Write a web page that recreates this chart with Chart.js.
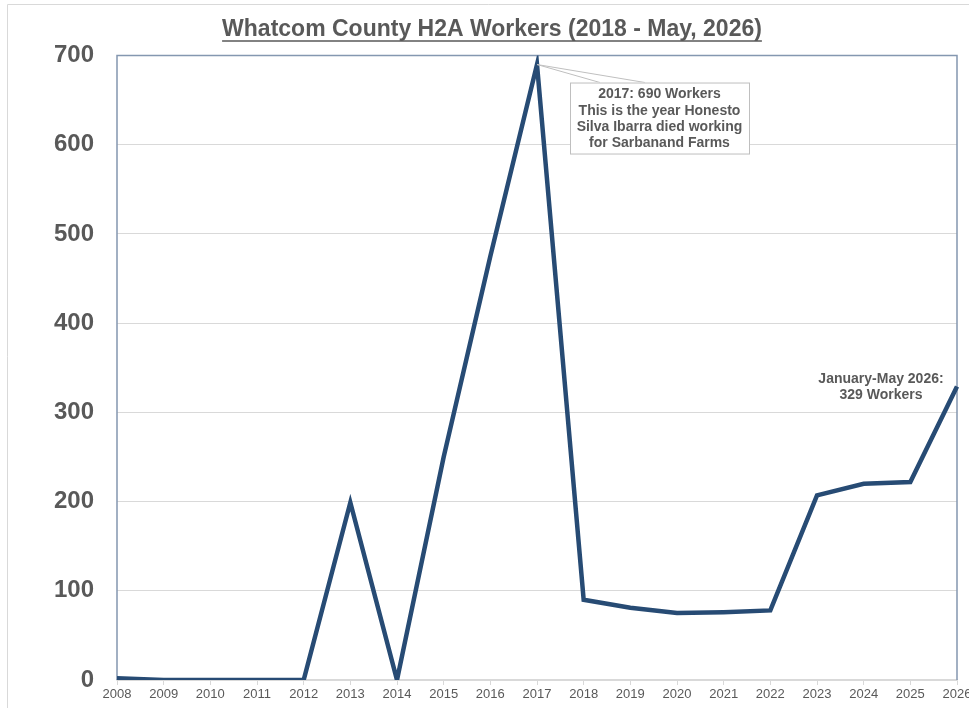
<!DOCTYPE html>
<html>
<head>
<meta charset="utf-8">
<script src="https://cdn.jsdelivr.net/npm/chart.js@4.4.0/dist/chart.umd.min.js"></script>
<style>
  html, body { margin: 0; padding: 0; background: #fff; }
  #wrap { width: 969px; height: 708px; }
</style>
</head>
<body>
<div id="wrap"><canvas id="workersChart" width="969" height="708"></canvas></div>
<script>
// chart data
var years = ['2008', '2009', '2010', '2011', '2012', '2013', '2014', '2015', '2016', '2017',
             '2018', '2019', '2020', '2021', '2022', '2023', '2024', '2025', '2026'];
var workers = [2, 0, 0, 0, 0, 199, 0, 250, 475, 690, 90, 81, 75, 76, 78, 207, 220, 222, 329];
var yTicks = [0, 100, 200, 300, 400, 500, 600, 700];

var peakNote = ['2017: 690 Workers', 'This is the year Honesto', 'Silva Ibarra died working', 'for Sarbanand Farms'];
var lastNote = ['January-May 2026:', '329 Workers'];

var grayText = '#595959';

// frame, title underline and the two notes
var extras = {
    id: 'extras',
    beforeDraw: function(chart) {
        var ctx = chart.ctx;
        ctx.save();
        ctx.strokeStyle = '#d9d9d9';
        ctx.lineWidth = 1;
        ctx.beginPath();
        ctx.moveTo(7.5, chart.height);
        ctx.lineTo(7.5, 4.5);
        ctx.lineTo(chart.width, 4.5);
        ctx.stroke();
        ctx.restore();
    },
    beforeDatasetsDraw: function(chart) {
        var ctx = chart.ctx, a = chart.chartArea;
        ctx.save();
        ctx.strokeStyle = '#8497b0';
        ctx.lineWidth = 1.5;
        ctx.beginPath();
        ctx.moveTo(a.left, a.bottom);
        ctx.lineTo(a.left, a.top);
        ctx.lineTo(a.right, a.top);
        ctx.lineTo(a.right, a.bottom);
        ctx.stroke();
        ctx.restore();
    },
    afterDraw: function(chart) {
        var ctx = chart.ctx;
        var xs = chart.scales.x, ys = chart.scales.y;

        // underline for the title
        var tb = chart.titleBlock;
        ctx.save();
        ctx.font = tb.options.font.weight + ' ' + tb.options.font.size + 'px ' + tb.options.font.family;
        var tw = ctx.measureText(tb.options.text).width;
        var cx = (tb.left + tb.right) / 2;
        ctx.strokeStyle = grayText;
        ctx.lineWidth = 1.5;
        ctx.beginPath();
        ctx.moveTo(cx - tw / 2, 41);
        ctx.lineTo(cx + tw / 2, 41);
        ctx.stroke();

        // 2017 callout
        var px = xs.getPixelForValue(9), py = ys.getPixelForValue(workers[9]);
        var bx = px + 33, by = py + 18, bw = 179, bh = 71;
        ctx.strokeStyle = '#bfbfbf';
        ctx.lineWidth = 1;
        ctx.beginPath();
        ctx.moveTo(px, py);
        ctx.lineTo(bx + 30, by);
        ctx.moveTo(px, py);
        ctx.lineTo(bx + 75, by);
        ctx.stroke();
        ctx.fillStyle = '#fff';
        ctx.fillRect(bx, by, bw, bh);
        ctx.strokeRect(bx + 0.5, by + 0.5, bw, bh);

        ctx.fillStyle = grayText;
        ctx.font = 'bold 14px "Liberation Sans", Arial, sans-serif';
        ctx.textAlign = 'center';
        ctx.textBaseline = 'middle';
        for (var i = 0; i < peakNote.length; i++) {
            ctx.fillText(peakNote[i], bx + bw / 2, by + 12 + i * 16.3);
        }

        // 2026 note
        var lx = xs.getPixelForValue(18), ly = ys.getPixelForValue(workers[18]);
        for (var j = 0; j < lastNote.length; j++) {
            ctx.fillText(lastNote[j], lx - 76, ly - 7 + j * 16);
        }
        ctx.restore();
    }
};

var ctx = document.getElementById('workersChart').getContext('2d');
new Chart(ctx, {
    type: 'line',
    data: {
        labels: years,
        datasets: [{
            data: workers,
            borderColor: '#274b74',
            borderWidth: 4.5,
            borderJoinStyle: 'miter',
            pointRadius: 0,
            tension: 0,
            fill: false
        }]
    },
    options: {
        responsive: false,
        animation: false,
        layout: { padding: { left: 27, right: 12, top: 0, bottom: 0 } },
        plugins: {
            legend: { display: false },
            tooltip: { enabled: false },
            title: {
                display: true,
                text: 'Whatcom County H2A Workers (2018 - May, 2026)',
                color: grayText,
                font: { family: '"Liberation Sans", Arial, sans-serif', size: 23, weight: 'bold' },
                padding: { top: 16, bottom: 12 },
                lineHeight: 1.2
            }
        },
        scales: {
            x: {
                offset: false,
                grid: { display: true, drawOnChartArea: false, drawTicks: true, tickLength: 5, color: '#d9d9d9' },
                border: { color: '#d9d9d9', width: 1.5 },
                ticks: {
                    color: grayText,
                    font: { family: '"Liberation Sans", Arial, sans-serif', size: 13 },
                    padding: 2,
                    maxRotation: 0,
                    autoSkip: false
                },
                afterFit: function(scale) {
                    scale.height = 28;
                    scale.paddingLeft = 0;
                    scale.paddingRight = 0;
                }
            },
            y: {
                min: 0,
                max: 700,
                afterBuildTicks: function(scale) {
                    scale.ticks = yTicks.map(function(v) { return { value: v }; });
                },
                grid: { color: '#d9d9d9', drawTicks: false, lineWidth: 1 },
                border: { display: false },
                ticks: {
                    color: grayText,
                    font: { family: '"Liberation Sans", Arial, sans-serif', size: 24, weight: 'bold' },
                    padding: 23
                },
                afterFit: function(scale) {
                    scale.width = 90;
                    scale.paddingTop = 0;
                    scale.paddingBottom = 0;
                }
            }
        }
    },
    plugins: [extras]
});
</script>
</body>
</html>
